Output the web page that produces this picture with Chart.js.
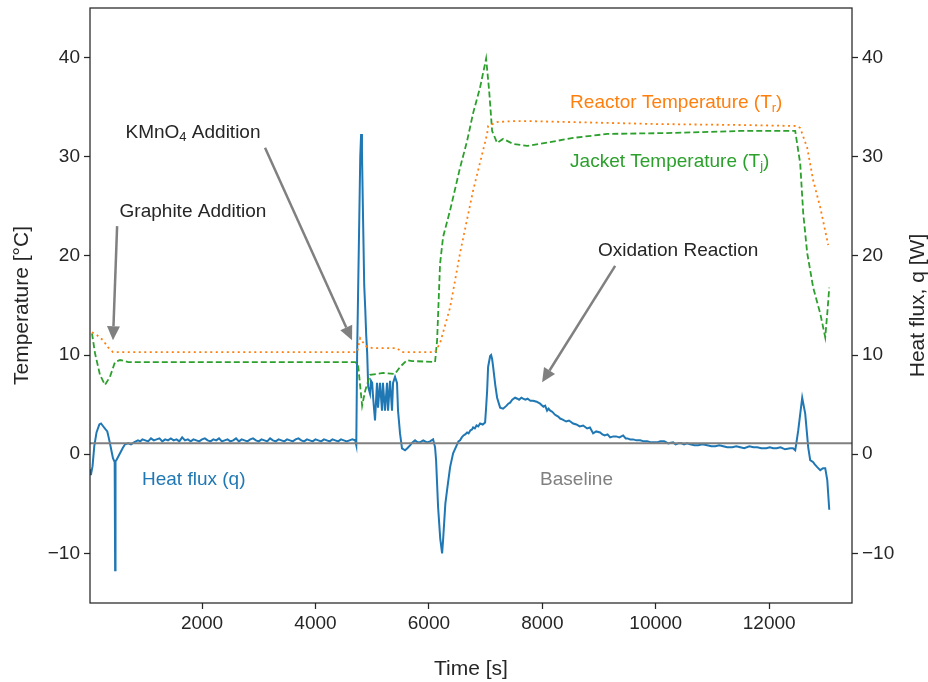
<!DOCTYPE html>
<html>
<head>
<meta charset="utf-8">
<script src="https://cdn.jsdelivr.net/npm/chart.js@4"></script>
<style>
  html, body { margin: 0; padding: 0; background: #fff; }
</style>
</head>
<body>
<canvas id="chart" width="928" height="682"></canvas>
<script>
// Heat flux, q [W] (right axis)
const timeQ = [25, 40, 70, 100, 140, 190, 220, 260, 300, 330, 350, 377, 405, 430, 460, 468, 475, 490, 554, 600, 642, 700, 748, 800, 871,
  910, 950, 1000, 1050, 1100, 1150, 1200, 1250, 1300, 1350, 1400, 1450, 1500, 1550, 1600, 1650, 1700, 1750, 1800, 1850, 1900,
  1950, 2000, 2050, 2100, 2150, 2200, 2250, 2300, 2350, 2400, 2450, 2500, 2550, 2600, 2650, 2700, 2750, 2800, 2850, 2900, 2950,
  3000, 3050, 3100, 3150, 3200, 3250, 3300, 3350, 3400, 3450, 3500, 3550, 3600, 3650, 3700, 3750, 3800, 3850, 3900, 3950,
  4000, 4050, 4100, 4150, 4200, 4250, 4300, 4350, 4400, 4450, 4500, 4550, 4600, 4650, 4700,
  4720, 4735, 4790, 4805, 4820, 4840, 4860, 4877, 4895, 4912, 4930, 4963, 4980, 5000, 5017, 5050, 5085, 5103, 5138, 5173, 5190,
  5226, 5262, 5280, 5315, 5350, 5368, 5403, 5438, 5456, 5491, 5526, 5580, 5620, 5668, 5710, 5756, 5800, 5843, 5900, 5967, 6020,
  6074, 6109, 6127, 6162, 6200, 6233, 6250, 6290, 6321, 6374, 6427, 6490, 6520, 6550, 6580, 6610, 6640, 6674, 6700, 6730, 6760,
  6780, 6810, 6840, 6870, 6903, 6950, 6991, 7009, 7027, 7044, 7080, 7097, 7115, 7133, 7170, 7203, 7256, 7309, 7370, 7400, 7432,
  7470, 7520, 7560, 7590, 7630, 7661, 7700, 7740, 7790, 7838, 7900, 7930, 7961, 8000, 8020, 8050, 8084, 8110, 8140, 8170, 8190,
  8220, 8250, 8280, 8314, 8360, 8420, 8470, 8543, 8600, 8660, 8720, 8790, 8840, 8896, 8950, 9019, 9060, 9100, 9150, 9196, 9250,
  9300, 9360, 9425, 9470, 9500, 9550, 9600, 9660, 9725, 9790, 9850, 9920, 10025, 10080, 10150, 10220, 10307, 10350, 10400, 10450,
  10500, 10550, 10607, 10680, 10750, 10820, 10907, 10980, 11050, 11120, 11189, 11260, 11350, 11420, 11489, 11560, 11650, 11720,
  11789, 11860, 11950, 12010, 12071, 12130, 12200, 12280, 12370, 12420, 12459, 12494, 12512, 12582, 12635,
  12688, 12723, 12776, 12800, 12847, 12900, 12950, 12988, 13024, 13059];
const heatFlux = [-1.5, -2.1, -1.2, 0.8, 2.2, 3.0, 3.1, 2.8, 2.5, 2.3, 1.8, 1.1, 0.3, -0.4, -0.8, -11.7, -0.7, -0.6, 0.1, 0.6, 1.0, 1.1, 1.0, 1.2, 1.4,
  1.3, 1.5, 1.4, 1.3, 1.6, 1.4, 1.5, 1.6, 1.3, 1.5, 1.4, 1.6, 1.4, 1.5, 1.3, 1.7, 1.4, 1.5, 1.3, 1.5, 1.4,
  1.3, 1.5, 1.6, 1.4, 1.3, 1.5, 1.4, 1.6, 1.3, 1.4, 1.5, 1.3, 1.4, 1.6, 1.3, 1.5, 1.4, 1.3, 1.5, 1.6, 1.4,
  1.3, 1.5, 1.4, 1.3, 1.6, 1.4, 1.3, 1.5, 1.4, 1.3, 1.5, 1.4, 1.3, 1.5, 1.6, 1.4, 1.3, 1.5, 1.4, 1.3,
  1.5, 1.4, 1.3, 1.5, 1.4, 1.3, 1.5, 1.4, 1.3, 1.5, 1.4, 1.3, 1.4, 1.5, 1.4,
  0.9, 10.2, 30.0, 32.3, 30.5, 23.6, 17.0, 14.8, 12.0, 10.2, 6.8, 6.1, 7.4, 7.2, 5.7, 3.4, 7.2, 4.7, 7.2, 4.4, 7.2,
  4.4, 7.2, 4.4, 7.4, 4.4, 7.2, 7.8, 7.2, 4.4, 2.1, 0.6, 0.4, 0.6, 0.9, 1.2, 1.4, 1.2, 1.2, 1.4, 1.2, 1.3,
  1.5, 0.7, -0.6, -5.3, -8.5, -10.0, -8.7, -5.0, -3.6, -1.3, 0.1, 0.9, 1.3, 1.4, 1.7, 1.9, 2.0, 2.2, 2.1, 2.4, 2.5,
  2.7, 2.6, 2.9, 2.8, 3.1, 3.0, 3.2, 4.7, 6.4, 8.8, 9.9, 10.0, 9.6, 8.8, 7.0, 5.7, 4.7, 4.6, 4.9, 5.1, 5.2,
  5.5, 5.7, 5.6, 5.5, 5.7, 5.6, 5.5, 5.6, 5.4, 5.4, 5.3, 5.2, 5.1, 4.9, 4.8, 4.9, 4.4, 4.6, 4.4, 4.3, 4.2,
  4.0, 3.9, 3.8, 3.6, 3.5, 3.3, 3.4, 3.1, 3.0, 2.8, 2.9, 2.6, 2.7, 2.1, 2.3, 2.2, 2.0, 1.9, 2.0, 1.7, 1.8,
  1.8, 1.7, 1.9, 1.6, 1.6, 1.5, 1.5, 1.4, 1.4, 1.3, 1.3, 1.2, 1.2, 1.3, 1.3, 1.1, 1.2, 1.0, 1.1, 1.1,
  1.0, 1.1, 1.0, 0.9, 0.9, 1.0, 0.9, 0.8, 0.8, 0.9, 0.8, 0.7, 0.7, 0.8, 0.7, 0.6, 0.8, 0.7,
  0.7, 0.6, 0.6, 0.7, 0.6, 0.6, 0.7, 0.5, 0.6, 0.6, 0.4, 1.7, 2.4, 5.7, 4.1,
  0.7, -0.6, -0.8, -1.0, -1.3, -1.6, -1.4, -1.4, -2.6, -5.6];

// Reactor temperature T_r [°C]
const timeTr = [60, 150, 254, 340, 430, 1000, 4735, 4788, 4850, 4912, 5017, 5438, 5526, 6109, 6197, 6374, 6550, 6780, 7027,
  7044, 7203, 7500, 7732, 8500, 10000, 11500, 12494, 12547, 12670, 12776, 12900, 13041];
const reactorTemp = [12.3, 12.0, 11.5, 10.8, 10.3, 10.3, 10.3, 11.7, 11.2, 10.8, 10.7, 10.7, 10.3, 10.3, 11.2, 14.8, 20.3, 26.6, 32.3,
  33.1, 33.5, 33.6, 33.6, 33.5, 33.3, 33.2, 33.1, 32.9, 30.9, 27.6, 24.9, 21.1];

// Jacket temperature T_j [°C]
const timeTj = [60, 113, 201, 289, 377, 466, 554, 700, 4700, 4752, 4823, 4877, 4963, 5194, 5403, 5491, 5614, 5703, 6109, 6145,
  6197, 6250, 6374, 6550, 6674, 6780, 6903, 7009, 7062, 7115, 7203, 7309, 7485, 7732, 7961, 8543, 9143, 10307, 11489, 12459,
  12547, 12600, 12670, 12776, 12900, 12988, 13024, 13059];
const jacketTemp = [12.2, 10.2, 8.0, 7.0, 7.8, 9.3, 9.5, 9.3, 9.3, 9.0, 4.9, 6.4, 8.0, 8.2, 8.1, 8.8, 9.5, 9.4, 9.3, 11.5,
  19.2, 21.9, 24.6, 28.9, 31.6, 34.4, 37.0, 39.9, 36.7, 32.6, 31.4, 31.8, 31.3, 31.1, 31.3, 31.9, 32.3, 32.4, 32.6, 32.6,
  29.3, 24.3, 20.3, 16.8, 14.2, 11.8, 14.2, 16.8];

// Baseline of the heat flux signal
const baselineTime = [25, 13460];
const baselineFlux = [1.1, 1.1];

const timeTicks = [2000, 4000, 6000, 8000, 10000, 12000];
const valueTicks = [-10, 0, 10, 20, 30, 40];

const ink = '#262626';
const arrowGrey = '#808080';
const fontFamily = '"Liberation Sans", Arial, sans-serif';

const toPoints = (xs, ys) => xs.map((x, i) => ({ x: x, y: ys[i] }));
const fmt = v => v < 0 ? '\u2212' + Math.abs(v) : String(v);

// Text labels and arrows, placed in data coordinates. "_x" marks a subscript.
const notes = [
  { text: 'Graphite Addition', x: 1841, y: 24.5, align: 'center', color: ink },
  { text: 'KMnO_4 Addition', x: 1841, y: 32.4, align: 'center', color: ink },
  { text: 'Oxidation Reaction', x: 10395, y: 20.5, align: 'center', color: ink },
  { text: 'Reactor Temperature (T_r)', x: 8490, y: 35.4, align: 'left', color: '#ff7f0e' },
  { text: 'Jacket Temperature (T_j)', x: 8490, y: 29.5, align: 'left', color: '#2ca02c' },
  { text: 'Heat flux (q)', x: 942, y: -2.6, align: 'left', color: '#1f77b4' },
  { text: 'Baseline', x: 7961, y: -2.6, align: 'left', color: '#808080' }
];
const arrows = [
  { from: [503, 23.0], to: [430, 11.5] },
  { from: [3111, 30.9], to: [4645, 11.5] },
  { from: [9284, 19.0], to: [7996, 7.25] }
];

function drawRich(ctx, text, x, y, align, size) {
  const parts = text.split(/(_.)/).filter(p => p.length);
  const big = size + 'px ' + fontFamily;
  const small = Math.round(size * 0.7) + 'px ' + fontFamily;
  let total = 0;
  parts.forEach(p => {
    ctx.font = p[0] === '_' ? small : big;
    total += ctx.measureText(p[0] === '_' ? p.slice(1) : p).width;
  });
  let cx = align === 'center' ? x - total / 2 : x;
  ctx.textAlign = 'left';
  ctx.textBaseline = 'middle';
  parts.forEach(p => {
    const sub = p[0] === '_';
    const s = sub ? p.slice(1) : p;
    ctx.font = sub ? small : big;
    ctx.fillText(s, cx, sub ? y + size * 0.25 : y);
    cx += ctx.measureText(s).width;
  });
}

const annotationPlugin = {
  id: 'annotations',
  afterDatasetsDraw(chart) {
    const ctx = chart.ctx;
    const xs = chart.scales.x, ys = chart.scales.y;
    const area = chart.chartArea;
    ctx.save();
    // arrows
    arrows.forEach(a => {
      const x0 = xs.getPixelForValue(a.from[0]), y0 = ys.getPixelForValue(a.from[1]);
      const x1 = xs.getPixelForValue(a.to[0]), y1 = ys.getPixelForValue(a.to[1]);
      const ang = Math.atan2(y1 - y0, x1 - x0);
      const head = 14, half = 6.5;
      const bx = x1 - head * Math.cos(ang), by = y1 - head * Math.sin(ang);
      ctx.strokeStyle = arrowGrey;
      ctx.fillStyle = arrowGrey;
      ctx.lineWidth = 2.5;
      ctx.beginPath();
      ctx.moveTo(x0, y0);
      ctx.lineTo(bx, by);
      ctx.stroke();
      ctx.beginPath();
      ctx.moveTo(x1, y1);
      ctx.lineTo(bx + half * Math.sin(ang), by - half * Math.cos(ang));
      ctx.lineTo(bx - half * Math.sin(ang), by + half * Math.cos(ang));
      ctx.closePath();
      ctx.fill();
    });
    // labels
    notes.forEach(n => {
      ctx.fillStyle = n.color;
      drawRich(ctx, n.text, xs.getPixelForValue(n.x), ys.getPixelForValue(n.y), n.align, 19);
    });
    // frame around the plot area
    ctx.strokeStyle = ink;
    ctx.lineWidth = 1.25;
    ctx.strokeRect(area.left, area.top, area.right - area.left, area.bottom - area.top);
    // right axis title, reading bottom to top
    ctx.translate(918, (area.top + area.bottom) / 2);
    ctx.rotate(-Math.PI / 2);
    ctx.fillStyle = ink;
    ctx.font = '21px ' + fontFamily;
    ctx.textAlign = 'center';
    ctx.textBaseline = 'middle';
    ctx.fillText('Heat flux, q [W]', 0, 0);
    ctx.restore();
  }
};

const tickFont = { family: fontFamily, size: 19 };
const titleFont = { family: fontFamily, size: 21 };
const tickGrid = { display: true, drawOnChartArea: false, tickLength: 6, tickColor: ink, tickWidth: 1.25 };
const noEdgePadding = s => { s.paddingTop = 0; s.paddingBottom = 0; s.paddingLeft = 0; s.paddingRight = 0; };

const chart = new Chart(document.getElementById('chart').getContext('2d'), {
  type: 'line',
  data: {
    datasets: [
      {
        label: 'Baseline',
        data: toPoints(baselineTime, baselineFlux),
        borderColor: '#808080',
        borderWidth: 2,
        pointRadius: 0,
        yAxisID: 'y2'
      },
      {
        label: 'Reactor Temperature',
        data: toPoints(timeTr, reactorTemp),
        borderColor: '#ff7f0e',
        borderWidth: 1.8,
        borderDash: [2, 3.5],
        pointRadius: 0,
        yAxisID: 'y'
      },
      {
        label: 'Jacket Temperature',
        data: toPoints(timeTj, jacketTemp),
        borderColor: '#2ca02c',
        borderWidth: 1.8,
        borderDash: [6, 3],
        pointRadius: 0,
        yAxisID: 'y'
      },
      {
        label: 'Heat flux',
        data: toPoints(timeQ, heatFlux),
        borderColor: '#1f77b4',
        borderWidth: 2,
        pointRadius: 0,
        yAxisID: 'y2'
      }
    ]
  },
  options: {
    responsive: false,
    animation: false,
    layout: { padding: { top: 8 } },
    plugins: { legend: { display: false }, tooltip: { enabled: false } },
    scales: {
      x: {
        type: 'linear',
        min: 25,
        max: 13460,
        afterBuildTicks: s => { s.ticks = timeTicks.map(v => ({ value: v })); },
        afterFit: s => { s.height = 79; noEdgePadding(s); },
        ticks: { font: tickFont, color: ink, padding: 3, maxRotation: 0, autoSkip: false, callback: fmt },
        grid: tickGrid,
        border: { display: false },
        title: { display: true, text: 'Time [s]', font: titleFont, color: ink, padding: { top: 0, bottom: 0 } }
      },
      y: {
        type: 'linear',
        position: 'left',
        min: -15,
        max: 45,
        afterBuildTicks: s => { s.ticks = valueTicks.map(v => ({ value: v })); },
        afterFit: s => { s.width = 90; noEdgePadding(s); },
        ticks: { font: tickFont, color: ink, padding: 4, callback: fmt },
        grid: tickGrid,
        border: { display: false },
        title: { display: true, text: 'Temperature [°C]', font: titleFont, color: ink, padding: { top: 10, bottom: 0 } }
      },
      y2: {
        type: 'linear',
        position: 'right',
        min: -15,
        max: 45,
        afterBuildTicks: s => { s.ticks = valueTicks.map(v => ({ value: v })); },
        afterFit: s => { s.width = 76; noEdgePadding(s); },
        ticks: { font: tickFont, color: ink, padding: 4, callback: fmt },
        grid: tickGrid,
        border: { display: false }
      }
    }
  },
  plugins: [annotationPlugin]
});
</script>
</body>
</html>
